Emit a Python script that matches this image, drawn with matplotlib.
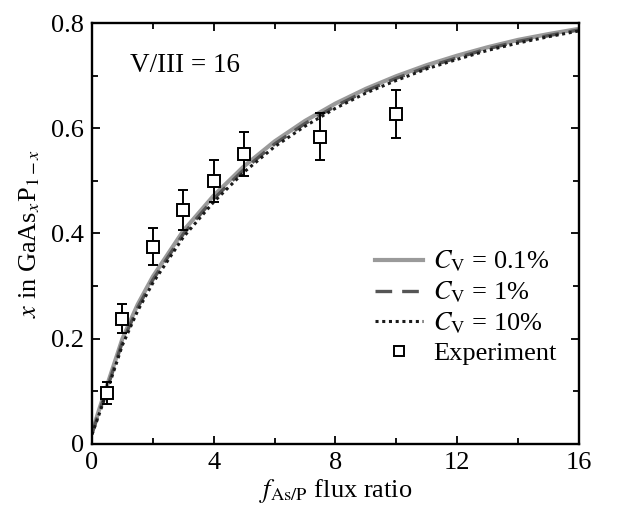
import matplotlib
matplotlib.use('Agg')
import matplotlib.pyplot as plt
from matplotlib.ticker import MultipleLocator, FuncFormatter

# Curvas calculadas
flujo = [0, 0.25, 0.5, 1, 1.5, 2, 3, 4, 5, 6, 7, 8, 9, 10, 11, 12, 13, 14, 15, 16]
x_cv_01 = [0.022, 0.068, 0.112, 0.200, 0.265, 0.318, 0.405, 0.472, 0.528, 0.575,
           0.614, 0.647, 0.675, 0.699, 0.720, 0.738, 0.754, 0.768, 0.779, 0.789]
x_cv_1 = [0.020, 0.063, 0.106, 0.194, 0.259, 0.312, 0.399, 0.466, 0.522, 0.570,
          0.609, 0.642, 0.671, 0.695, 0.716, 0.734, 0.751, 0.765, 0.776, 0.787]
x_cv_10 = [0.018, 0.059, 0.101, 0.188, 0.253, 0.306, 0.393, 0.460, 0.517, 0.565,
           0.604, 0.638, 0.667, 0.691, 0.713, 0.731, 0.748, 0.762, 0.774, 0.785]

# Datos experimentales
flujo_exp = [0.5, 1, 2, 3, 4, 5, 7.5, 10]
x_exp = [0.096, 0.238, 0.375, 0.445, 0.500, 0.551, 0.584, 0.627]
err_exp = [0.021, 0.028, 0.035, 0.038, 0.040, 0.042, 0.045, 0.045]

plt.rcParams['font.family'] = ['Liberation Serif', 'DejaVu Serif']
plt.rcParams['mathtext.fontset'] = 'stix'
plt.rcParams['font.size'] = 19

fig = plt.figure(figsize=(6.39, 5.12), dpi=100)
ax = fig.add_axes([0.144, 0.133, 0.762, 0.822])

ax.plot(flujo, x_cv_01, color='#9a9a9a', lw=3.0, ls='-', label=r'$C_\mathrm{V}$ = 0.1%')
ax.plot(flujo, x_cv_1, color='#555555', lw=2.4, ls=(0, (5, 3)), label=r'$C_\mathrm{V}$ = 1%')
ax.plot(flujo, x_cv_10, color='#1a1a1a', lw=2.2, ls=(0, (1, 1.2)), label=r'$C_\mathrm{V}$ = 10%')
ax.errorbar(flujo_exp, x_exp, yerr=err_exp, fmt='none', ecolor='black',
            elinewidth=1.4, capsize=3.5, capthick=1.4, zorder=5)
ax.plot(flujo_exp, x_exp, 's', mfc='white', mec='black', mew=1.4, ms=8,
        label='Experiment', zorder=6)

ax.set_xlim(0, 16)
ax.set_ylim(0, 0.8)
ax.xaxis.set_major_locator(MultipleLocator(4))
ax.xaxis.set_minor_locator(MultipleLocator(2))
ax.yaxis.set_major_locator(MultipleLocator(0.2))
ax.yaxis.set_minor_locator(MultipleLocator(0.1))
ax.yaxis.set_major_formatter(FuncFormatter(lambda v, p: '0' if abs(v) < 1e-9 else f'{v:.1f}'))
ax.tick_params(which='both', direction='in', top=True, right=True, width=1.3)
ax.tick_params(which='major', length=6, pad=6)
ax.tick_params(which='minor', length=4)
for s in ax.spines.values():
    s.set_linewidth(1.7)

ax.set_xlabel(r'$f_\mathrm{As/P}$ flux ratio', labelpad=2)
ax.set_ylabel(r'$x$ in GaAs$_x$P$_{1-x}$', labelpad=6)

ax.text(1.25, 0.72, 'V/III = 16', ha='left', va='center', fontsize=19.5)

ax.legend(loc='lower right', bbox_to_anchor=(0.965, 0.175),
          frameon=False, handlelength=1.8, handletextpad=0.4, labelspacing=0.2,
          borderpad=0.2, borderaxespad=0.0, markerscale=0.9)

plt.savefig('out.png', dpi=100)
plt.close()
